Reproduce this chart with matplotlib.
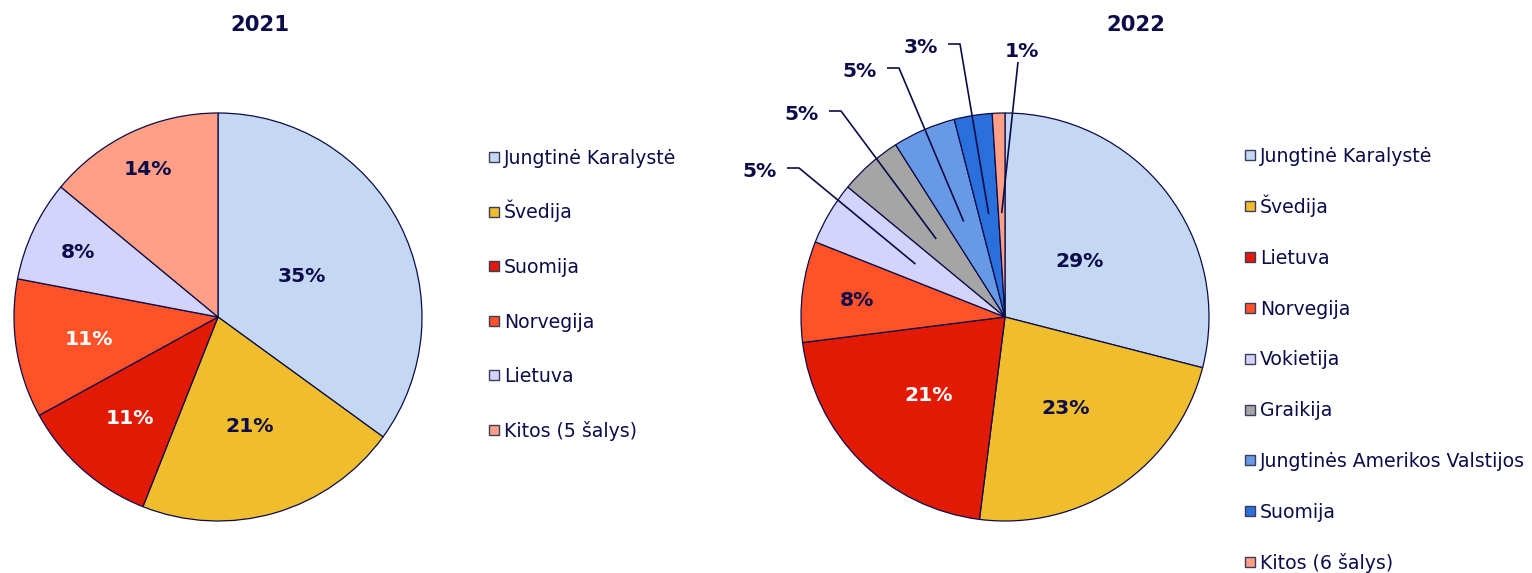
import matplotlib.pyplot as plt
from matplotlib.patches import Rectangle
import numpy as np

W, H = 1532, 573
NAVY = "#0c0c4a"

# 2021
countries_2021 = ["Jungtinė Karalystė", "Švedija", "Suomija", "Norvegija",
                  "Lietuva", "Kitos (5 šalys)"]
shares_2021 = [35, 21, 11, 11, 8, 14]

# 2022
countries_2022 = ["Jungtinė Karalystė", "Švedija", "Lietuva", "Norvegija",
                  "Vokietija", "Graikija", "Jungtinės Amerikos Valstijos",
                  "Suomija", "Kitos (6 šalys)"]
shares_2022 = [29, 23, 21, 8, 5, 5, 5, 3, 1]

colors_2021 = ["#c5d8f3", "#f0bd2d", "#e31a03", "#ff5228", "#d3d3fb", "#ffa086"]
colors_2022 = ["#c5d8f3", "#f0bd2d", "#e31a03", "#ff5228", "#d3d3fb",
               "#a5a5a5", "#6899e4", "#2a70dc", "#ffa086"]

# label colour and radial distance (fraction of radius) for the inner labels
label_colors_2021 = [NAVY, NAVY, "white", "white", NAVY, NAVY]
label_dist_2021 = [0.46, 0.55, 0.65, 0.64, 0.76, 0.81]
label_colors_2022 = [NAVY, NAVY, "white", NAVY]
label_dist_2022 = [0.46, 0.53, 0.53, 0.73]
# small 2022 slices get callouts: label centre in pixels
callouts_2022 = [(760, 170), (802, 113), (860, 70), (921, 46), (1022, 50)]

PCT_FS = 14.6
LEG_FS = 13.6
TITLE_FS = 15.3
PX = 100 / 72  # pixels per point


def py(y):
    # image row -> data y
    return H - y


fig = plt.figure(figsize=(W / 100, H / 100), dpi=100)
ax = fig.add_axes([0, 0, 1, 1])


def text_centered(x, y, s, fs, color, weight="bold", ha="center"):
    # place text so its cap height is centred on image row y
    ax.text(x, py(y) - 0.365 * fs * PX, s, fontsize=fs, color=color,
            fontweight=weight, ha=ha, va="baseline", family="DejaVu Sans")


def draw_pie(shares, colors, cx, cy, r):
    wedges, _ = ax.pie(shares, colors=colors, startangle=90, counterclock=False,
                       center=(cx, py(cy)), radius=r,
                       wedgeprops=dict(edgecolor=NAVY, linewidth=0.9))
    return wedges


def mid_point(w, frac):
    ang = np.deg2rad((w.theta1 + w.theta2) / 2)
    cx, cy = w.center
    return cx + frac * w.r * np.cos(ang), cy + frac * w.r * np.sin(ang)


def draw_legend(labels, colors, x, y0, step):
    for i, (lab, col) in enumerate(zip(labels, colors)):
        y = y0 + i * step
        ax.add_patch(Rectangle((x, py(y) - 5), 10, 10, facecolor=col,
                               edgecolor="#3c3c5c", linewidth=1))
        text_centered(x + 15, y, lab, LEG_FS, NAVY, weight="normal", ha="left")


R = 204

# 2021 pie
w21 = draw_pie(shares_2021, colors_2021, 218, 317, R)
for w, v, c, d in zip(w21, shares_2021, label_colors_2021, label_dist_2021):
    x, y = mid_point(w, d)
    text_centered(x, H - y, f"{v}%", PCT_FS, c)
draw_legend(countries_2021, colors_2021, 489, 157, 54.6)
text_centered(260, 23, "2021", TITLE_FS, NAVY)

# 2022 pie
w22 = draw_pie(shares_2022, colors_2022, 1005, 317, R)
for w, v, c, d in zip(w22, shares_2022, label_colors_2022, label_dist_2022):
    x, y = mid_point(w, d)
    text_centered(x, H - y, f"{v}%", PCT_FS, c)

n_in = len(label_dist_2022)
for i, (lx, ly) in enumerate(callouts_2022):
    w = w22[n_in + i]
    v = shares_2022[n_in + i]
    text_centered(lx, ly, f"{v}%", PCT_FS, NAVY)
    ex, ey = mid_point(w, 0.51)
    if i < len(callouts_2022) - 1:
        xs = [lx + 27, lx + 39, ex]
        ys = [py(ly - 2), py(ly - 2), ey]
    else:
        xs = [lx - 4, ex]
        ys = [py(ly + 12), ey]
    ax.plot(xs, ys, color=NAVY, linewidth=1.2, solid_capstyle="butt")

draw_legend(countries_2022, colors_2022, 1245, 155, 50.9)
text_centered(1136, 23, "2022", TITLE_FS, NAVY)

ax.set_xlim(0, W)
ax.set_ylim(0, H)
ax.set_aspect("auto")
ax.axis("off")

fig.savefig("out.png", dpi=100, facecolor="white")
